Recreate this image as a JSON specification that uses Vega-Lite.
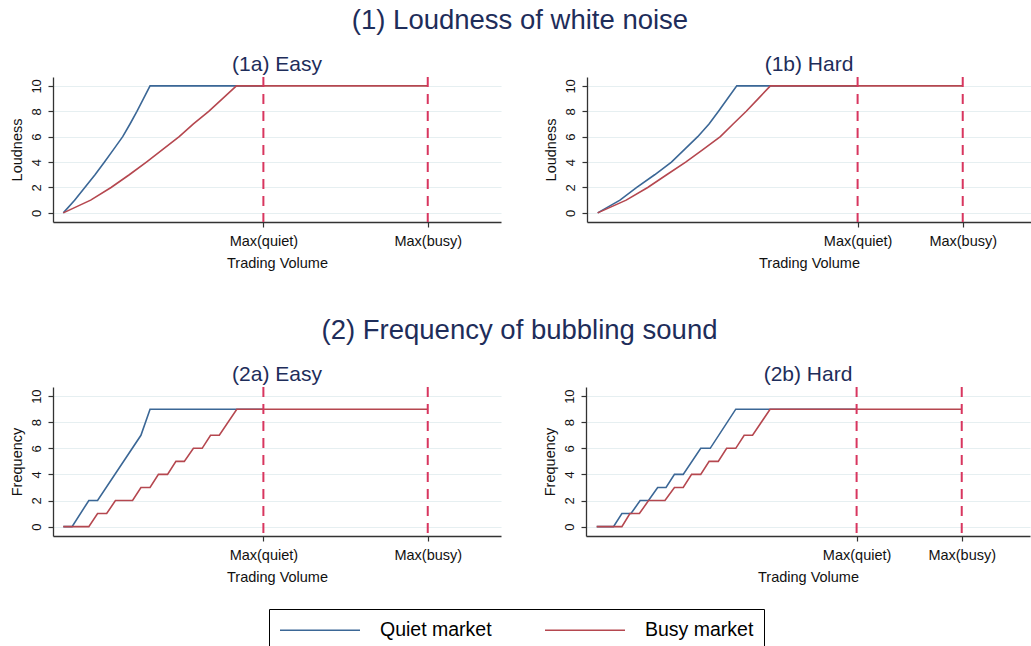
{
  "$schema": "https://vega.github.io/schema/vega-lite/v6.json",
  "background": "white",
  "padding": {"left": 8, "top": 6, "right": 0, "bottom": 0},
  "datasets": {
    "curves": [
      {"p": "1a", "m": "Quiet market", "v": 0, "y": 0},
      {"p": "1a", "m": "Quiet market", "v": 3.1, "y": 1},
      {"p": "1a", "m": "Quiet market", "v": 5.9, "y": 2},
      {"p": "1a", "m": "Quiet market", "v": 8.7, "y": 3},
      {"p": "1a", "m": "Quiet market", "v": 11.3, "y": 4},
      {"p": "1a", "m": "Quiet market", "v": 13.8, "y": 5},
      {"p": "1a", "m": "Quiet market", "v": 16.3, "y": 6},
      {"p": "1a", "m": "Quiet market", "v": 18.3, "y": 7},
      {"p": "1a", "m": "Quiet market", "v": 20.2, "y": 8},
      {"p": "1a", "m": "Quiet market", "v": 22.0, "y": 9},
      {"p": "1a", "m": "Quiet market", "v": 23.8, "y": 10},
      {"p": "1a", "m": "Quiet market", "v": 54.9, "y": 10},
      {"p": "1a", "m": "Busy market", "v": 0, "y": 0},
      {"p": "1a", "m": "Busy market", "v": 7.5, "y": 1},
      {"p": "1a", "m": "Busy market", "v": 13.1, "y": 2},
      {"p": "1a", "m": "Busy market", "v": 18.1, "y": 3},
      {"p": "1a", "m": "Busy market", "v": 22.8, "y": 4},
      {"p": "1a", "m": "Busy market", "v": 27.3, "y": 5},
      {"p": "1a", "m": "Busy market", "v": 31.8, "y": 6},
      {"p": "1a", "m": "Busy market", "v": 35.7, "y": 7},
      {"p": "1a", "m": "Busy market", "v": 39.9, "y": 8},
      {"p": "1a", "m": "Busy market", "v": 43.7, "y": 9},
      {"p": "1a", "m": "Busy market", "v": 47.5, "y": 10},
      {"p": "1a", "m": "Busy market", "v": 100, "y": 10},
      {"p": "1b", "m": "Quiet market", "v": 0, "y": 0},
      {"p": "1b", "m": "Quiet market", "v": 6.1, "y": 1},
      {"p": "1b", "m": "Quiet market", "v": 10.7, "y": 2},
      {"p": "1b", "m": "Quiet market", "v": 15.6, "y": 3},
      {"p": "1b", "m": "Quiet market", "v": 20.2, "y": 4},
      {"p": "1b", "m": "Quiet market", "v": 23.8, "y": 5},
      {"p": "1b", "m": "Quiet market", "v": 27.4, "y": 6},
      {"p": "1b", "m": "Quiet market", "v": 30.5, "y": 7},
      {"p": "1b", "m": "Quiet market", "v": 33.1, "y": 8},
      {"p": "1b", "m": "Quiet market", "v": 35.6, "y": 9},
      {"p": "1b", "m": "Quiet market", "v": 38.1, "y": 10},
      {"p": "1b", "m": "Quiet market", "v": 71.2, "y": 10},
      {"p": "1b", "m": "Busy market", "v": 0, "y": 0},
      {"p": "1b", "m": "Busy market", "v": 7.8, "y": 1},
      {"p": "1b", "m": "Busy market", "v": 13.7, "y": 2},
      {"p": "1b", "m": "Busy market", "v": 18.9, "y": 3},
      {"p": "1b", "m": "Busy market", "v": 24.1, "y": 4},
      {"p": "1b", "m": "Busy market", "v": 28.9, "y": 5},
      {"p": "1b", "m": "Busy market", "v": 33.6, "y": 6},
      {"p": "1b", "m": "Busy market", "v": 37.1, "y": 7},
      {"p": "1b", "m": "Busy market", "v": 40.7, "y": 8},
      {"p": "1b", "m": "Busy market", "v": 44.0, "y": 9},
      {"p": "1b", "m": "Busy market", "v": 47.3, "y": 10},
      {"p": "1b", "m": "Busy market", "v": 100, "y": 10},
      {"p": "2a", "m": "Quiet market", "v": 0, "y": 0},
      {"p": "2a", "m": "Quiet market", "v": 2.4, "y": 0},
      {"p": "2a", "m": "Quiet market", "v": 7.0, "y": 2},
      {"p": "2a", "m": "Quiet market", "v": 9.4, "y": 2},
      {"p": "2a", "m": "Quiet market", "v": 21.3, "y": 7},
      {"p": "2a", "m": "Quiet market", "v": 23.8, "y": 9},
      {"p": "2a", "m": "Quiet market", "v": 54.9, "y": 9},
      {"p": "2a", "m": "Busy market", "v": 0, "y": 0},
      {"p": "2a", "m": "Busy market", "v": 7.0, "y": 0},
      {"p": "2a", "m": "Busy market", "v": 9.4, "y": 1},
      {"p": "2a", "m": "Busy market", "v": 11.9, "y": 1},
      {"p": "2a", "m": "Busy market", "v": 14.3, "y": 2},
      {"p": "2a", "m": "Busy market", "v": 19.0, "y": 2},
      {"p": "2a", "m": "Busy market", "v": 21.3, "y": 3},
      {"p": "2a", "m": "Busy market", "v": 23.8, "y": 3},
      {"p": "2a", "m": "Busy market", "v": 26.1, "y": 4},
      {"p": "2a", "m": "Busy market", "v": 28.6, "y": 4},
      {"p": "2a", "m": "Busy market", "v": 30.9, "y": 5},
      {"p": "2a", "m": "Busy market", "v": 33.2, "y": 5},
      {"p": "2a", "m": "Busy market", "v": 35.7, "y": 6},
      {"p": "2a", "m": "Busy market", "v": 38.1, "y": 6},
      {"p": "2a", "m": "Busy market", "v": 40.4, "y": 7},
      {"p": "2a", "m": "Busy market", "v": 42.8, "y": 7},
      {"p": "2a", "m": "Busy market", "v": 47.6, "y": 9},
      {"p": "2a", "m": "Busy market", "v": 100, "y": 9},
      {"p": "2b", "m": "Quiet market", "v": 0, "y": 0},
      {"p": "2b", "m": "Quiet market", "v": 4.6, "y": 0},
      {"p": "2b", "m": "Quiet market", "v": 6.9, "y": 1},
      {"p": "2b", "m": "Quiet market", "v": 9.4, "y": 1},
      {"p": "2b", "m": "Quiet market", "v": 11.9, "y": 2},
      {"p": "2b", "m": "Quiet market", "v": 14.2, "y": 2},
      {"p": "2b", "m": "Quiet market", "v": 16.7, "y": 3},
      {"p": "2b", "m": "Quiet market", "v": 19.0, "y": 3},
      {"p": "2b", "m": "Quiet market", "v": 21.3, "y": 4},
      {"p": "2b", "m": "Quiet market", "v": 23.7, "y": 4},
      {"p": "2b", "m": "Quiet market", "v": 28.5, "y": 6},
      {"p": "2b", "m": "Quiet market", "v": 31.1, "y": 6},
      {"p": "2b", "m": "Quiet market", "v": 38.1, "y": 9},
      {"p": "2b", "m": "Quiet market", "v": 71.2, "y": 9},
      {"p": "2b", "m": "Busy market", "v": 0, "y": 0},
      {"p": "2b", "m": "Busy market", "v": 6.9, "y": 0},
      {"p": "2b", "m": "Busy market", "v": 9.1, "y": 1},
      {"p": "2b", "m": "Busy market", "v": 11.7, "y": 1},
      {"p": "2b", "m": "Busy market", "v": 14.2, "y": 2},
      {"p": "2b", "m": "Busy market", "v": 18.7, "y": 2},
      {"p": "2b", "m": "Busy market", "v": 21.3, "y": 3},
      {"p": "2b", "m": "Busy market", "v": 23.7, "y": 3},
      {"p": "2b", "m": "Busy market", "v": 26.0, "y": 4},
      {"p": "2b", "m": "Busy market", "v": 28.5, "y": 4},
      {"p": "2b", "m": "Busy market", "v": 30.8, "y": 5},
      {"p": "2b", "m": "Busy market", "v": 33.3, "y": 5},
      {"p": "2b", "m": "Busy market", "v": 35.6, "y": 6},
      {"p": "2b", "m": "Busy market", "v": 38.1, "y": 6},
      {"p": "2b", "m": "Busy market", "v": 40.4, "y": 7},
      {"p": "2b", "m": "Busy market", "v": 42.7, "y": 7},
      {"p": "2b", "m": "Busy market", "v": 47.5, "y": 9},
      {"p": "2b", "m": "Busy market", "v": 100, "y": 9}
    ],
    "maxima": [
      {"p": "1a", "k": "quiet", "v": 54.9},
      {"p": "1a", "k": "busy", "v": 100},
      {"p": "1b", "k": "quiet", "v": 71.2},
      {"p": "1b", "k": "busy", "v": 100},
      {"p": "2a", "k": "quiet", "v": 54.9},
      {"p": "2a", "k": "busy", "v": 100},
      {"p": "2b", "k": "quiet", "v": 71.2},
      {"p": "2b", "k": "busy", "v": 100}
    ]
  },
  "spacing": 46,
  "vconcat": [
    {
      "title": {"text": "(1) Loudness of white noise", "fontSize": 27.5, "offset": 20},
      "spacing": 41,
      "hconcat": [
        {
          "width": 448, "height": 145,
          "title": {"text": "(1a) Easy", "fontSize": 21, "offset": 1},
          "encoding": {
            "x": {"field": "v", "type": "quantitative", "title": "Trading Volume",
                  "scale": {"domain": [-2.83, 120.1], "nice": false, "zero": false},
                  "axis": {"values": [54.9, 100], "labelExpr": "datum.value >= 99 ? 'Max(busy)' : 'Max(quiet)'"}},
            "y": {"field": "y", "type": "quantitative", "title": "Loudness",
                  "scale": {"domain": [-0.72, 10.7], "nice": false, "zero": false},
                  "axis": {"values": [0, 2, 4, 6, 8, 10], "tickCount": 6, "labelOverlap": false, "labelBound": false}},
            "color": {"field": "m", "type": "nominal", "scale": {"domain": ["Quiet market", "Busy market"], "range": ["#3b6796", "#b5474f"]},
                      "legend": {"orient": "none", "legendX": 216, "legendY": 532}}
          },
          "layer": [
            {
              "data": {"name": "curves"},
              "transform": [{"filter": "datum.p === '1a' && datum.m === 'Quiet market'"}],
              "mark": {"type": "line", "strokeWidth": 1.6}
            },
            {
              "data": {"name": "curves"},
              "transform": [{"filter": "datum.p === '1a' && datum.m === 'Busy market'"}],
              "mark": {"type": "line", "strokeWidth": 1.6}
            },
            {
              "data": {"name": "maxima"},
              "transform": [{"filter": "datum.p === '1a'"}],
              "mark": {"type": "rule", "color": "#d8365f", "strokeDash": [10, 7], "strokeWidth": 2},
              "encoding": {"x": {"field": "v", "type": "quantitative"}, "y": {"value": 0}, "y2": {"value": 145}, "color": {"value": "#d8365f"}}
            }
          ]
        },
        {
          "width": 444, "height": 145,
          "title": {"text": "(1b) Hard", "fontSize": 21, "offset": 1},
          "encoding": {
            "x": {"field": "v", "type": "quantitative", "title": "Trading Volume",
                  "scale": {"domain": [-2.93, 118.7], "nice": false, "zero": false},
                  "axis": {"values": [71.2, 100], "labelExpr": "datum.value >= 99 ? 'Max(busy)' : 'Max(quiet)'"}},
            "y": {"field": "y", "type": "quantitative", "title": "Loudness",
                  "scale": {"domain": [-0.72, 10.7], "nice": false, "zero": false},
                  "axis": {"values": [0, 2, 4, 6, 8, 10], "tickCount": 6, "labelOverlap": false, "labelBound": false}},
            "color": {"field": "m", "type": "nominal"}
          },
          "layer": [
            {
              "data": {"name": "curves"},
              "transform": [{"filter": "datum.p === '1b' && datum.m === 'Quiet market'"}],
              "mark": {"type": "line", "strokeWidth": 1.6}
            },
            {
              "data": {"name": "curves"},
              "transform": [{"filter": "datum.p === '1b' && datum.m === 'Busy market'"}],
              "mark": {"type": "line", "strokeWidth": 1.6}
            },
            {
              "data": {"name": "maxima"},
              "transform": [{"filter": "datum.p === '1b'"}],
              "mark": {"type": "rule", "color": "#d8365f", "strokeDash": [10, 7], "strokeWidth": 2},
              "encoding": {"x": {"field": "v", "type": "quantitative"}, "y": {"value": 0}, "y2": {"value": 145}, "color": {"value": "#d8365f"}}
            }
          ]
        }
      ]
    },
    {
      "title": {"text": "(2) Frequency of bubbling sound", "fontSize": 27.5, "offset": 20},
      "spacing": 41,
      "hconcat": [
        {
          "width": 448, "height": 149,
          "title": {"text": "(2a) Easy", "fontSize": 21, "offset": 1},
          "encoding": {
            "x": {"field": "v", "type": "quantitative", "title": "Trading Volume",
                  "scale": {"domain": [-2.83, 120.1], "nice": false, "zero": false},
                  "axis": {"values": [54.9, 100], "labelExpr": "datum.value >= 99 ? 'Max(busy)' : 'Max(quiet)'"}},
            "y": {"field": "y", "type": "quantitative", "title": "Frequency",
                  "scale": {"domain": [-0.72, 10.7], "nice": false, "zero": false},
                  "axis": {"values": [0, 2, 4, 6, 8, 10], "tickCount": 6, "labelOverlap": false, "labelBound": false}},
            "color": {"field": "m", "type": "nominal"}
          },
          "layer": [
            {
              "data": {"name": "curves"},
              "transform": [{"filter": "datum.p === '2a' && datum.m === 'Quiet market'"}],
              "mark": {"type": "line", "strokeWidth": 1.6}
            },
            {
              "data": {"name": "curves"},
              "transform": [{"filter": "datum.p === '2a' && datum.m === 'Busy market'"}],
              "mark": {"type": "line", "strokeWidth": 1.6}
            },
            {
              "data": {"name": "maxima"},
              "transform": [{"filter": "datum.p === '2a'"}],
              "mark": {"type": "rule", "color": "#d8365f", "strokeDash": [10, 7], "strokeWidth": 2},
              "encoding": {"x": {"field": "v", "type": "quantitative"}, "y": {"value": 0}, "y2": {"value": 149}, "color": {"value": "#d8365f"}}
            }
          ]
        },
        {
          "width": 444, "height": 149,
          "title": {"text": "(2b) Hard", "fontSize": 21, "offset": 1},
          "encoding": {
            "x": {"field": "v", "type": "quantitative", "title": "Trading Volume",
                  "scale": {"domain": [-2.93, 118.7], "nice": false, "zero": false},
                  "axis": {"values": [71.2, 100], "labelExpr": "datum.value >= 99 ? 'Max(busy)' : 'Max(quiet)'"}},
            "y": {"field": "y", "type": "quantitative", "title": "Frequency",
                  "scale": {"domain": [-0.72, 10.7], "nice": false, "zero": false},
                  "axis": {"values": [0, 2, 4, 6, 8, 10], "tickCount": 6, "labelOverlap": false, "labelBound": false}},
            "color": {"field": "m", "type": "nominal"}
          },
          "layer": [
            {
              "data": {"name": "curves"},
              "transform": [{"filter": "datum.p === '2b' && datum.m === 'Quiet market'"}],
              "mark": {"type": "line", "strokeWidth": 1.6}
            },
            {
              "data": {"name": "curves"},
              "transform": [{"filter": "datum.p === '2b' && datum.m === 'Busy market'"}],
              "mark": {"type": "line", "strokeWidth": 1.6}
            },
            {
              "data": {"name": "maxima"},
              "transform": [{"filter": "datum.p === '2b'"}],
              "mark": {"type": "rule", "color": "#d8365f", "strokeDash": [10, 7], "strokeWidth": 2},
              "encoding": {"x": {"field": "v", "type": "quantitative"}, "y": {"value": 0}, "y2": {"value": 149}, "color": {"value": "#d8365f"}}
            }
          ]
        }
      ]
    }
  ],
  "resolve": {"scale": {"x": "independent", "y": "independent"}},
  "config": {
    "font": "Liberation Sans",
    "view": {"stroke": null},
    "title": {"fontWeight": "normal", "color": "#1e2d5a", "anchor": "middle"},
    "axis": {
      "domainColor": "#333333", "domainWidth": 1.3,
      "tickColor": "#333333", "tickSize": 5, "tickWidth": 1.2,
      "labelColor": "#111111", "labelFontSize": 14.5, "labelFont": "Liberation Sans",
      "titleColor": "#111111", "titleFontSize": 14.5, "titleFontWeight": "normal", "titleFont": "Liberation Sans",
      "gridColor": "#e6eff1", "gridWidth": 1.2
    },
    "axisY": {"grid": true, "labelAngle": 270, "labelAlign": "center", "labelBaseline": "bottom", "labelPadding": 5, "labelFontSize": 13, "titlePadding": 6},
    "axisX": {"grid": false, "labelPadding": 7, "titlePadding": 9},
    "legend": {
      "direction": "horizontal", "columns": 2, "title": null,
      "symbolType": "M-1,0H7", "symbolSize": 400, "symbolStrokeWidth": 1.6,
      "labelFontSize": 19.5, "labelColor": "#000000", "labelFont": "Liberation Sans", "labelOffset": 79,
      "columnPadding": 49, "padding": 10, "strokeColor": "#000000", "fillColor": "#ffffff"
    }
  }
}
